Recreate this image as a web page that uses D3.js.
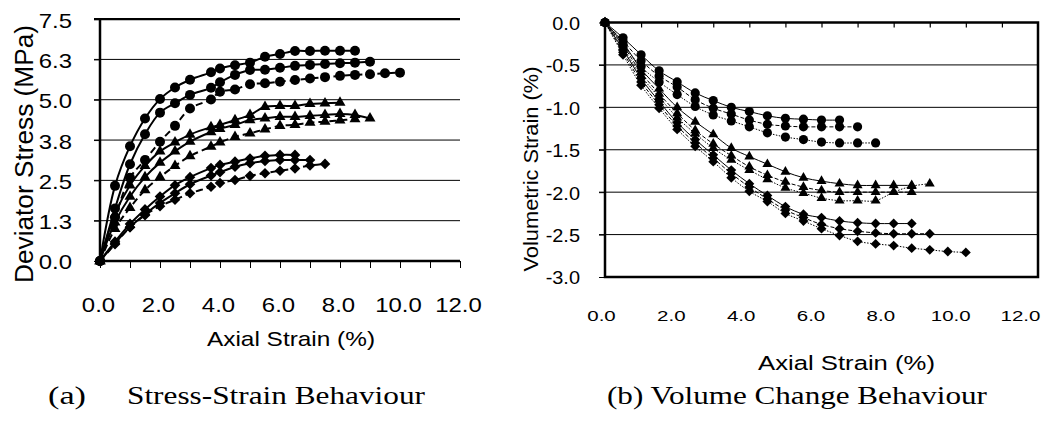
<!DOCTYPE html>
<html><head><meta charset="utf-8">
<script src="https://cdn.jsdelivr.net/npm/d3@7"></script>
<style>body{margin:0;background:#fff}svg{display:block}</style>
</head><body>
<svg id="c" width="1062" height="421"></svg>
<script>
// ---------- DATA: (a) stress-strain ----------
const strainA = [0,0.5,1,1.5,2,2.5,3,3.7,4,4.5,5,5.5,6,6.5,7,7.5,8,8.5,9,9.5,10];
const stressC1 = [0,2.33,3.56,4.42,5.02,5.38,5.62,5.85,5.97,6.07,6.15,6.33,6.42,6.51,6.51,6.52,6.52,6.52];
const stressC2 = [0,1.63,3.0,3.93,4.6,4.89,5.15,5.37,5.54,5.77,5.92,5.93,5.99,6.05,6.08,6.11,6.13,6.15,6.18];
const stressC3 = [0,1.35,2.58,3.13,3.70,4.19,4.73,5.01,5.25,5.32,5.48,5.51,5.56,5.61,5.66,5.70,5.74,5.77,5.79,5.82,5.84];
const stressT1 = [0,1.45,2.35,2.95,3.4,3.68,3.92,4.15,4.22,4.37,4.53,4.78,4.81,4.81,4.87,4.89,4.91];
const stressT2 = [0,1.2,2.0,2.6,3.05,3.4,3.7,4.0,4.1,4.22,4.37,4.42,4.47,4.47,4.50,4.53,4.56,4.53,4.42];
const stressT3 = [0,1.0,1.65,2.2,2.6,2.95,3.25,3.55,3.68,3.85,3.96,4.08,4.19,4.22,4.29,4.32,4.36,4.40];
const stressD1 = [0,0.6,1.15,1.6,2.0,2.35,2.6,2.88,2.98,3.08,3.18,3.26,3.29,3.29];
const stressD2 = [0,0.55,1.05,1.45,1.8,2.1,2.38,2.65,2.75,2.92,3.03,3.10,3.13,3.13,3.13];
const stressD3 = [0,0.52,1.05,1.42,1.70,1.90,2.10,2.30,2.42,2.51,2.64,2.72,2.80,2.87,2.96,3.01];
const xTicksA = [0,2,4,6,8,10,12];
const xTickLabelsA = ["0.0","2.0","4.0","6.0","8.0","10.0","12.0"];
const yTicksA = [0,1.25,2.5,3.75,5,6.25,7.5];
const yTickLabelsA = ["0.0","1.3","2.5","3.8","5.0","6.3","7.5"];

// ---------- DATA: (b) volume change ----------
const strainB = [0,0.5,1,1.5,2,2.5,3,3.5,4,4.5,5,5.5,6,6.5,7,7.5,8,8.5,9,9.5,10];
const volC1 = [0,-0.18,-0.38,-0.57,-0.70,-0.83,-0.92,-1.00,-1.05,-1.10,-1.13,-1.14,-1.15,-1.15];
const volC2 = [0,-0.22,-0.45,-0.63,-0.76,-0.91,-1.01,-1.08,-1.15,-1.20,-1.22,-1.23,-1.23,-1.23,-1.23];
const volC3 = [0,-0.26,-0.52,-0.70,-0.85,-0.99,-1.09,-1.16,-1.23,-1.30,-1.35,-1.38,-1.41,-1.42,-1.42,-1.42];
const volT1 = [0,-0.24,-0.55,-0.78,-1.00,-1.17,-1.32,-1.48,-1.58,-1.67,-1.76,-1.83,-1.87,-1.90,-1.92,-1.92,-1.92,-1.92];
const volT2 = [0,-0.27,-0.59,-0.84,-1.07,-1.27,-1.43,-1.57,-1.70,-1.80,-1.88,-1.94,-1.98,-2.00,-2.00,-2.00,-2.00,-2.00];
const volT3 = [0,-0.30,-0.63,-0.88,-1.12,-1.31,-1.48,-1.62,-1.74,-1.85,-1.95,-2.01,-2.07,-2.10,-2.10,-2.10,-2.00,-1.93,-1.90];
const volD1 = [0,-0.32,-0.66,-0.93,-1.18,-1.38,-1.56,-1.74,-1.90,-2.04,-2.17,-2.26,-2.30,-2.34,-2.36,-2.37,-2.37,-2.37];
const volD2 = [0,-0.35,-0.70,-0.97,-1.22,-1.42,-1.60,-1.78,-1.94,-2.08,-2.21,-2.30,-2.38,-2.43,-2.46,-2.48,-2.49,-2.49,-2.49];
const volD3 = [0,-0.38,-0.74,-1.01,-1.26,-1.46,-1.64,-1.83,-1.99,-2.11,-2.25,-2.34,-2.43,-2.51,-2.58,-2.61,-2.63,-2.66,-2.68,-2.70,-2.71];
const xTicksB = [0,2,4,6,8,10,12];
const xTickLabelsB = ["0.0","2.0","4.0","6.0","8.0","10.0","12.0"];
const yTicksB = [0,-0.5,-1,-1.5,-2,-2.5,-3];
const yTickLabelsB = ["0.0","-0.5","-1.0","-1.5","-2.0","-2.5","-3.0"];

// ---------- drawing ----------
const svg = d3.select("#c");
const SANS = "'Liberation Sans', Arial, sans-serif";
const SERIF = "'Liberation Serif', 'Times New Roman', serif";

function stretch(sel, f){
  sel.each(function(){
    const L = this.getComputedTextLength();
    this.setAttribute("textLength", L*f);
    this.setAttribute("lengthAdjust","spacingAndGlyphs");
  });
}
function symPath(kind, s){
  if (kind==="circle") return d3.symbol(d3.symbolCircle, Math.PI*s*s)();
  if (kind==="triangle") return d3.symbol(d3.symbolTriangle, Math.sqrt(3)/4*s*s)();
  return d3.symbol(d3.symbolSquare, s*s)();
}
function drawSeries(g, xs, ys, xS, yS, kind, msize, dash, lw){
  const pts = ys.map((v,i)=>[xs[i], v]);
  g.append("path").datum(pts)
    .attr("fill","none").attr("stroke","#000").attr("stroke-width",lw)
    .attr("stroke-dasharray",dash)
    .attr("d", d3.line().x(d=>xS(d[0])).y(d=>yS(d[1])).curve(d3.curveCatmullRom.alpha(0.5)));
  g.selectAll(null).data(pts).enter().append("path")
    .attr("d", symPath(kind, msize))
    .attr("fill","#000")
    .attr("transform", d=>`translate(${xS(d[0])},${yS(d[1])})` + (kind==="diamond" ? " rotate(45)" : ""));
}

// ===== Chart (a) =====
const xA = d3.scaleLinear().domain([0,12]).range([100,460]);
const yA = d3.scaleLinear().domain([0,7.5]).range([261,19.1]);
const gA = svg.append("g");

gA.selectAll(null).data(yTicksA.slice(1)).enter().append("line")
  .attr("x1",94).attr("x2",460).attr("y1",d=>yA(d)).attr("y2",d=>yA(d))
  .attr("stroke","#000").attr("stroke-width",d=> d===7.5 ? 2.3 : 1);

const yAxA = gA.append("g").attr("transform","translate(100,0)")
  .call(d3.axisLeft(yA).tickValues(yTicksA).tickFormat((d,i)=>yTickLabelsA[i]).tickSize(6).tickPadding(22));
yAxA.select(".domain").remove();
yAxA.selectAll("line").attr("stroke","#000");
yAxA.selectAll("text").attr("font-family",SANS).attr("font-size",21).attr("fill","#000").attr("dy","0.38em").call(stretch,1.14);

const xAxA = gA.append("g").attr("transform","translate(0,261)")
  .call(d3.axisBottom(xA).tickValues(d3.range(0,13)).tickFormat("").tickSize(7));
xAxA.select(".domain").remove();
xAxA.selectAll("line").attr("stroke","#000");
const xLabA = gA.append("g").attr("transform","translate(0,261)")
  .call(d3.axisBottom(xA).tickValues(xTicksA).tickFormat((d,i)=>xTickLabelsA[i]).tickSize(0).tickPadding(36));
xLabA.select(".domain").remove();
xLabA.selectAll("text").attr("font-family",SANS).attr("font-size",21).attr("fill","#000").attr("dx","-2").call(stretch,1.14);

gA.append("line").attr("x1",100).attr("x2",100).attr("y1",yA(7.5)).attr("y2",yA(0)).attr("stroke","#000").attr("stroke-width",2.5);
gA.append("line").attr("x1",99).attr("x2",460).attr("y1",yA(0)).attr("y2",yA(0)).attr("stroke","#000").attr("stroke-width",2.5);

const seriesA = [
  [stressD3,"diamond","7,4"],[stressD2,"diamond",null],[stressD1,"diamond",null],
  [stressT3,"triangle","7,4"],[stressT2,"triangle",null],[stressT1,"triangle",null],
  [stressC3,"circle","7,4"],[stressC2,"circle",null],[stressC1,"circle",null]
];
seriesA.forEach(([ys,kind,dash])=>{
  const ms = kind==="circle" ? 5 : (kind==="triangle" ? 11 : 7.5);
  drawSeries(gA, strainA, ys, xA, yA, kind, ms, dash, 2);
});

svg.append("text").attr("transform","translate(33,154) rotate(-90)")
  .attr("text-anchor","middle").attr("font-family",SANS).attr("font-size",25)
  .attr("textLength",258).attr("lengthAdjust","spacingAndGlyphs")
  .text("Deviator Stress (MPa)");
svg.append("text").attr("x",291).attr("y",346).attr("text-anchor","middle")
  .attr("font-family",SANS).attr("font-size",21)
  .attr("textLength",168).attr("lengthAdjust","spacingAndGlyphs")
  .text("Axial Strain (%)");
svg.append("text").attr("x",48).attr("y",404).attr("font-family",SERIF).attr("font-size",25.5)
  .attr("textLength",38).attr("lengthAdjust","spacingAndGlyphs").text("(a)");
svg.append("text").attr("x",127).attr("y",404).attr("font-family",SERIF).attr("font-size",25.5)
  .attr("textLength",298).attr("lengthAdjust","spacingAndGlyphs").text("Stress-Strain Behaviour");

// ===== Chart (b) =====
const xB = d3.scaleLinear().domain([0,12]).range([605,1038]);
const yB = d3.scaleLinear().domain([-3,0]).range([277,22.5]);
const xBLab = d3.scaleLinear().domain([0,12]).range([601,1020]);
const gB = svg.append("g");

gB.selectAll(null).data(yTicksB.slice(1,6)).enter().append("line")
  .attr("x1",599).attr("x2",1038).attr("y1",d=>yB(d)).attr("y2",d=>yB(d))
  .attr("stroke","#000").attr("stroke-width",1);

const yAxB = gB.append("g").attr("transform","translate(605,0)")
  .call(d3.axisLeft(yB).tickValues(yTicksB).tickFormat((d,i)=>yTickLabelsB[i]).tickSize(6).tickPadding(19));
yAxB.select(".domain").remove();
yAxB.selectAll("line").attr("stroke","#000");
yAxB.selectAll("text").attr("font-family",SANS).attr("font-size",19).attr("fill","#000").attr("dy","0.36em").call(stretch,1.05);

const topAx = gB.append("g").attr("transform",`translate(0,${yB(0)})`)
  .call(d3.axisBottom(xB).tickValues(d3.range(1,12)).tickFormat("").tickSize(5));
topAx.select(".domain").remove();
topAx.selectAll("line").attr("stroke","#000").attr("stroke-width",1.2);

const xLabB = gB.append("g").attr("transform",`translate(0,${yB(-3)})`)
  .call(d3.axisBottom(xBLab).tickValues(xTicksB).tickFormat((d,i)=>xTickLabelsB[i]).tickSize(0).tickPadding(33));
xLabB.select(".domain").remove();
xLabB.selectAll("text").attr("font-family",SANS).attr("font-size",15.5).attr("fill","#000").call(stretch,1.32);

gB.append("rect").attr("x",605).attr("y",yB(0)).attr("width",1038-605).attr("height",yB(-3)-yB(0))
  .attr("fill","none").attr("stroke","#000").attr("stroke-width",2.5);

const seriesB = [
  [volD3,"diamond","1.5,1.5"],[volD2,"diamond","4,2"],[volD1,"diamond",null],
  [volT3,"triangle","1.5,1.5"],[volT2,"triangle","4,2"],[volT1,"triangle",null],
  [volC3,"circle","1.5,1.5"],[volC2,"circle","4,2"],[volC1,"circle",null]
];
seriesB.forEach(([ys,kind,dash])=>{
  const ms = kind==="circle" ? 4.6 : (kind==="triangle" ? 10 : 7);
  drawSeries(gB, strainB, ys, xB, yB, kind, ms, dash, 1);
});

svg.append("text").attr("transform","translate(538,169) rotate(-90)")
  .attr("text-anchor","middle").attr("font-family",SANS).attr("font-size",21)
  .attr("textLength",205).attr("lengthAdjust","spacingAndGlyphs")
  .text("Volumetric Strain (%)");
svg.append("text").attr("x",846.5).attr("y",370).attr("text-anchor","middle")
  .attr("font-family",SANS).attr("font-size",20.5)
  .attr("textLength",177).attr("lengthAdjust","spacingAndGlyphs")
  .text("Axial Strain (%)");
svg.append("text").attr("x",607).attr("y",404).attr("font-family",SERIF).attr("font-size",25.5)
  .attr("textLength",380).attr("lengthAdjust","spacingAndGlyphs")
  .text("(b) Volume Change Behaviour");
</script>
</body></html>
